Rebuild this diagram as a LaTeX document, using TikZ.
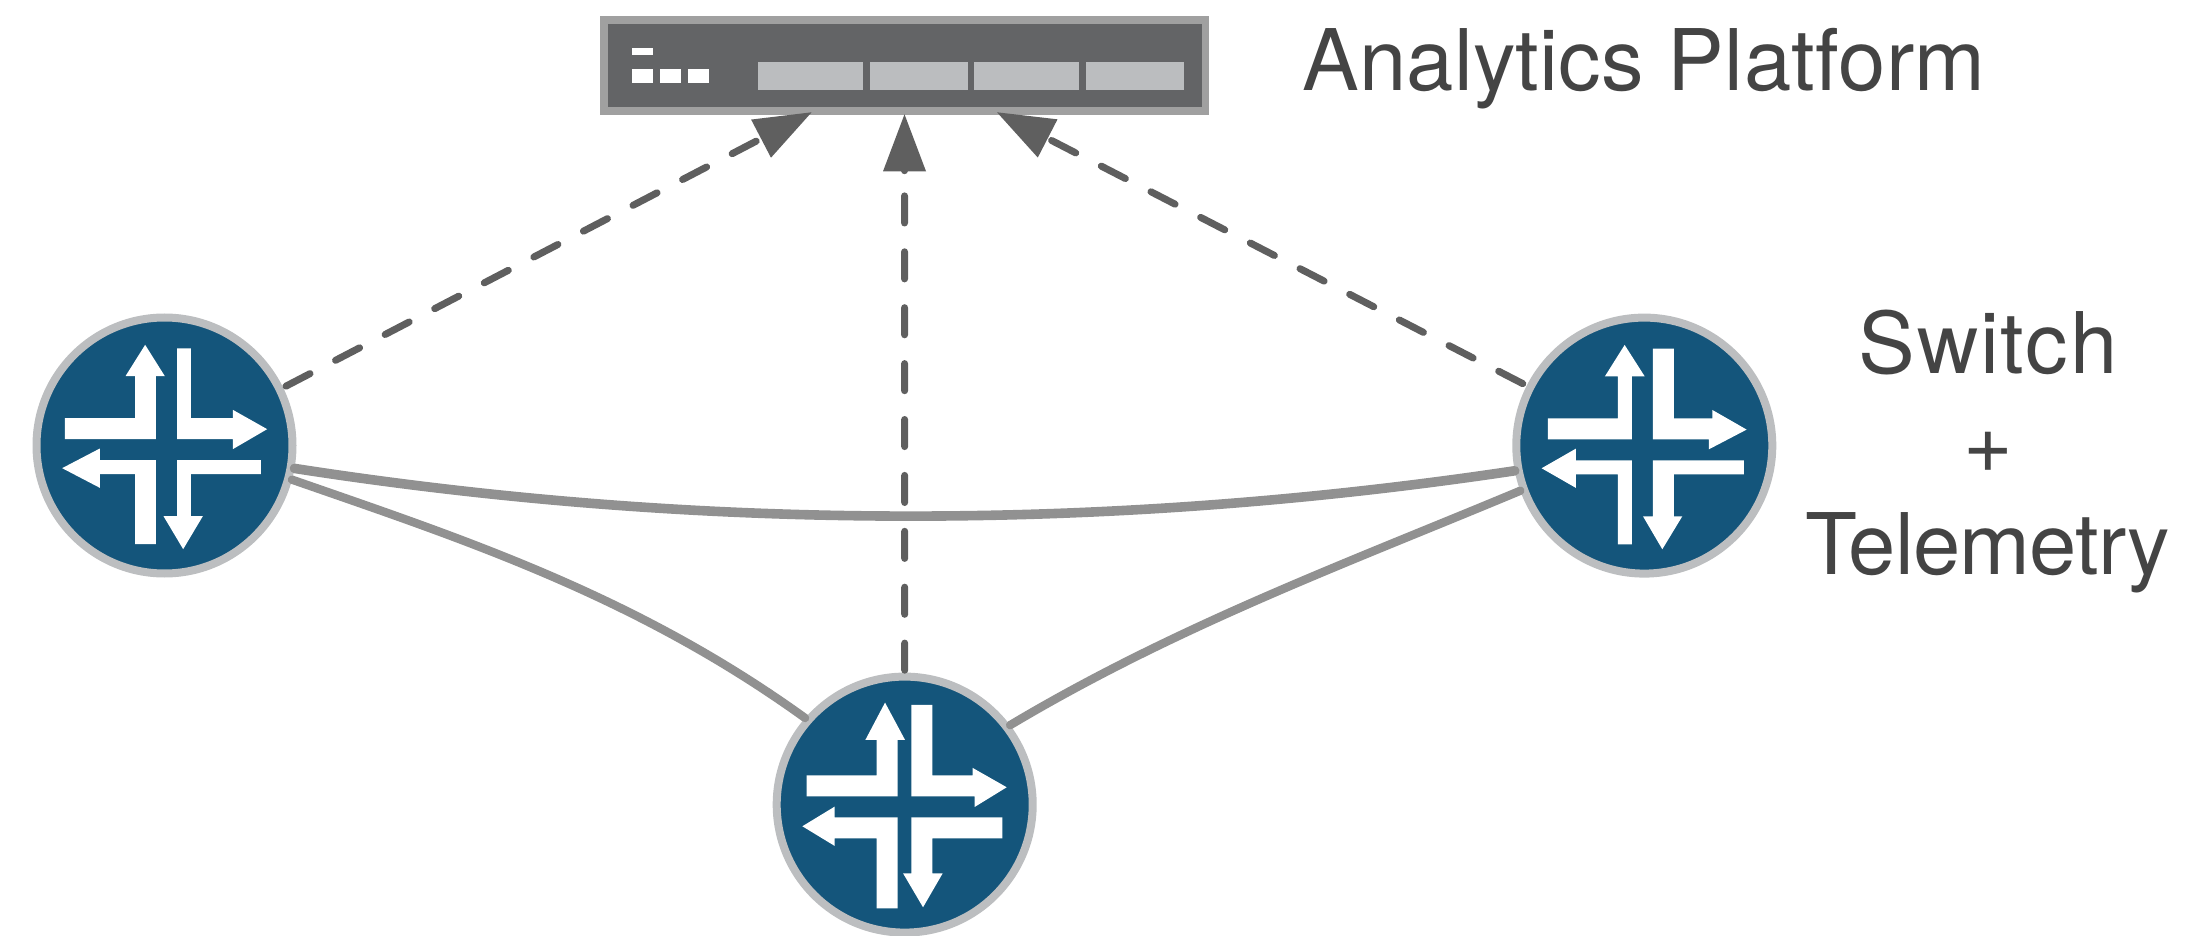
\documentclass[tikz,border=0pt]{standalone}
\usepackage{fontspec}
\setmainfont{TeX Gyre Heros}
\usetikzlibrary{arrows.meta}
\definecolor{ringgray}{HTML}{BCBEC0}
\definecolor{routerblue}{HTML}{14557B}
\definecolor{boxborder}{HTML}{A0A0A0}
\definecolor{boxfill}{HTML}{636466}
\definecolor{slab}{HTML}{BBBDBF}
\definecolor{dashcol}{HTML}{5F5F5F}
\definecolor{linkcol}{HTML}{919191}
\definecolor{textcol}{HTML}{444444}
\tikzset{
  x=0.5pt,y=-0.5pt,
  router/.style={circle,draw=ringgray,fill=routerblue,line width=4pt,minimum size=128pt,inner sep=0pt},
  platform/.style={rectangle,draw=boxborder,fill=boxfill,line width=3.75pt,minimum width=300.75pt,minimum height=45.6pt,inner sep=0pt},
  label/.style={text=textcol,inner sep=0pt,font=\fontsize{42.5}{50}\selectfont},
  telemetry/.style={draw=dashcol,line width=3.5pt,line cap=round,dash pattern=on 13.55pt off 14.4pt,
     -{Triangle[length=28.5pt,width=21.5pt,line width=0pt,sep=0pt]}},
  link/.style={draw=linkcol,line cap=round},
  iconleft/.pic={
    \begin{scope}[x=0.16667pt,y=-0.16667pt,shift={(-494,-467)}]
      \fill[white] (436,165)--(495,259)--(468,259)--(468,448)--(195,448)--(195,385)--(406,385)--(406,259)--(377,259)--cycle;
      \fill[white] (532,176)--(573,176)--(573,385)--(699,385)--(699,360)--(802,418)--(699,478)--(699,448)--(532,448)--cycle;
      \fill[white] (187,535)--(300,476)--(300,511)--(468,511)--(468,763)--(406,763)--(406,553)--(300,553)--(300,594)--cycle;
      \fill[white] (532,511)--(783,511)--(783,553)--(573,553)--(573,679)--(609,679)--(550,778)--(491,679)--(532,679)--cycle;
    \end{scope}
  },
  iconmiddle/.pic={
    \begin{scope}[x=0.16667pt,y=-0.16667pt,shift={(-464,-464)}]
      \fill[white] (405,158)--(465,270)--(443,270)--(443,439)--(170,439)--(170,376)--(380,376)--(380,270)--(346,270)--cycle;
      \fill[white] (484,165)--(547,165)--(547,376)--(668,376)--(668,354)--(770,412)--(674,471)--(674,439)--(484,439)--cycle;
      \fill[white] (157,529)--(254,470)--(254,502)--(443,502)--(443,775)--(380,775)--(380,565)--(254,565)--(254,588)--cycle;
      \fill[white] (484,502)--(757,502)--(757,565)--(547,565)--(547,670)--(578,670)--(519,772)--(459,670)--(484,670)--cycle;
    \end{scope}
  },
  iconright/.pic={
    \begin{scope}[x=0.16667pt,y=-0.16667pt,shift={(-463,-467)}]
      \fill[white] (404,165)--(464,259)--(426,259)--(426,448)--(174,448)--(174,385)--(384,385)--(384,259)--(345,259)--cycle;
      \fill[white] (489,176)--(552,176)--(552,385)--(667,385)--(667,360)--(770,419)--(657,478)--(657,448)--(489,448)--cycle;
      \fill[white] (155,535)--(258,476)--(258,511)--(426,511)--(426,763)--(384,763)--(384,553)--(258,553)--(258,594)--cycle;
      \fill[white] (489,511)--(762,511)--(762,553)--(552,553)--(552,679)--(577,679)--(517,778)--(459,679)--(489,679)--cycle;
    \end{scope}
  }
}
\begin{document}
\begin{tikzpicture}
\useasboundingbox (0,0) rectangle (2207,936);
% platform
\node[platform] (box) at (904.5,65.4) {};
\fill[slab] (758,62) rectangle (863,90);
\fill[slab] (870,62) rectangle (968,90);
\fill[slab] (974,62) rectangle (1079,90);
\fill[slab] (1086,62) rectangle (1184,90);
\fill[white] (632,48) rectangle (653,55);
\fill[white] (632,69) rectangle (653,83);
\fill[white] (660,69) rectangle (681,83);
\fill[white] (688,69) rectangle (709,83);
% routers
\node[router] (r1) at (164.5,445.5) {};
\node[router] (r2) at (904.7,804.6) {};
\node[router] (r3) at (1644.3,445.6) {};
\pic at (r1.center) {iconleft};
\pic at (r2.center) {iconmiddle};
\pic at (r3.center) {iconright};
% arrow ends on the platform
\coordinate (tipL) at (811.6,112.3);
\coordinate (tipC) at (904.5,114.3);
\coordinate (tipR) at (997,112.3);
% telemetry
\draw[telemetry,shorten <=1.6pt] (r1.26.5) -- (tipL);
\draw[telemetry,shorten <=1.2pt] (r2.90) -- (tipC);
\draw[telemetry,shorten <=2.2pt] (r3.153.2) -- (tipR);
\fill[dashcol] (904.5,170.7) circle (1.75pt);
% links
\draw[link,line width=4.8pt] (r1.-10.5) .. controls (701,531.6) and (1109,531.6) .. (r3.-169.5);
\draw[link,line width=4.2pt] (r1.-15.7) .. controls (462,538.8) and (634.6,595) .. (r2.139.2);
\draw[link,line width=4.2pt] (r2.37.7) .. controls (1178,625) and (1350,562) .. (r3.-160.1);
% labels
\node[label,anchor=base west] (analytics) at (1302,91) {\addfontfeature{LetterSpace=0.3}Analytics Platform};
\node[label,anchor=base] (switch) at (1988,373) {\addfontfeature{LetterSpace=2}Switch};
\node[label,anchor=base] (plus) at (1988,473) {+};
\node[label,anchor=base] (telem) at (1988,574) {\addfontfeature{LetterSpace=-0.9}Telemetry};
\end{tikzpicture}
\end{document}
